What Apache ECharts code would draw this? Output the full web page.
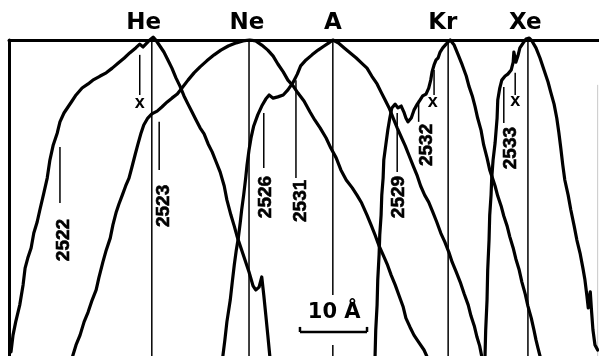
<!DOCTYPE html>
<html>
<head>
<meta charset="utf-8">
<script src="https://cdn.jsdelivr.net/npm/echarts@6/dist/echarts.min.js"></script>
<style>
html,body{margin:0;padding:0;background:#fff;}
#chart{width:599px;height:356px;}
</style>
</head>
<body>
<div id="chart"></div>
<script>
// x: wavelength offset (Å), y: relative intensity (frame top = 100)
const heCurve = [[0.3,1.3],[0.6,6.6],[1.0,10.8],[1.6,16.1],[2.1,22.5],[2.4,27.8],[2.8,31.0],[3.3,34.2],[3.7,38.9],[4.2,42.4],[4.6,46.2],[5.2,51.6],[5.7,56.3],[6.1,62.0],[6.6,66.8],[7.2,70.6],[7.6,74.1],[8.2,76.9],[8.8,78.8],[9.4,80.7],[10.0,82.6],[10.9,84.8],[11.8,86.1],[12.5,87.3],[13.6,88.6],[14.5,89.6],[15.4,91.1],[16.3,92.7],[17.2,94.3],[18.0,95.9],[18.9,97.5],[19.5,98.7],[20.0,97.8],[20.4,98.7],[21.0,100],[21.5,100.9],[21.9,100],[22.5,98.1],[23.1,96.2],[23.7,93.7],[24.3,91.1],[24.9,88.0],[25.5,85.4],[26.1,82.3],[26.7,79.7],[27.3,77.2],[27.9,74.7],[28.5,72.2],[29.1,70.3],[29.7,67.1],[30.3,64.6],[30.9,61.4],[31.5,58.2],[32.1,53.8],[32.5,49.4],[33.1,44.6],[33.6,41.1],[34.0,38.0],[34.6,34.2],[35.2,30.4],[35.8,26.6],[36.4,22.2],[36.8,20.9],[37.3,21.8],[37.7,25.0],[38.0,19.3],[38.3,13.0],[38.6,6.6],[38.9,0]];
const neCurve = [[9.5,0],[10.0,3.5],[10.6,6.6],[11.2,10.8],[11.8,13.9],[12.4,17.7],[13.0,20.9],[13.4,24.7],[14.0,29.7],[14.5,33.5],[15.1,37.3],[15.5,41.5],[16.0,45.6],[16.4,48.1],[16.9,50.9],[17.4,53.8],[17.9,56.3],[18.3,59.5],[18.8,63.6],[19.2,66.8],[19.7,70.6],[20.1,73.1],[20.7,75.3],[21.3,76.6],[22.1,77.5],[22.8,78.8],[23.6,80.4],[24.3,81.6],[25.1,82.9],[25.8,84.8],[26.7,87.3],[27.6,89.6],[28.5,91.5],[29.5,93.4],[30.6,95.3],[31.6,96.8],[32.7,98.1],[33.9,99.1],[34.9,99.7],[35.9,100],[36.8,99.7],[37.7,98.4],[38.6,96.8],[39.4,94.9],[40.1,92.4],[40.9,89.9],[41.6,87.3],[42.4,85.4],[43.1,83.2],[44.0,80.7],[44.9,77.2],[45.6,74.7],[46.4,72.2],[47.3,69.0],[48.0,65.8],[48.8,62.7],[49.5,58.9],[50.3,55.7],[51.2,53.2],[51.9,50.9],[52.6,48.4],[53.4,44.6],[54.0,41.5],[54.6,38.3],[55.2,34.8],[55.8,32.0],[56.4,29.1],[57.0,25.6],[57.6,22.5],[58.2,19.0],[58.8,15.5],[59.2,12.0],[59.8,9.2],[60.4,6.6],[61.1,4.4],[61.9,1.9],[62.3,0]];
const arCurve = [[31.9,0],[32.2,5.1],[32.5,10.8],[33.0,17.7],[33.3,23.4],[33.6,28.8],[33.9,33.5],[34.2,37.3],[34.5,42.4],[34.7,46.2],[35.0,50.9],[35.3,56.3],[35.5,60.4],[35.8,65.2],[36.1,69.0],[36.5,72.8],[37.1,76.3],[37.7,79.1],[38.3,81.3],[38.8,82.6],[39.4,81.6],[40.1,82.0],[40.9,82.6],[41.6,84.2],[42.4,86.7],[43.0,89.2],[43.5,91.8],[44.3,93.7],[45.2,95.3],[46.1,96.8],[47.0,98.1],[47.7,99.1],[48.3,100],[49.1,99.1],[50.0,97.5],[50.9,95.9],[51.8,94.3],[52.6,92.7],[53.4,91.1],[54.1,88.6],[54.9,86.1],[55.5,83.5],[56.1,81.0],[56.7,78.5],[57.3,75.3],[57.9,72.2],[58.5,69.3],[59.1,66.5],[59.7,63.3],[60.3,60.1],[60.9,57.0],[61.4,53.8],[62.0,50.9],[62.6,48.7],[63.2,45.6],[63.8,42.4],[64.4,38.9],[65.0,36.1],[65.6,32.9],[66.1,29.7],[66.7,26.6],[67.3,23.4],[67.9,19.6],[68.5,16.1],[68.9,12.7],[69.4,9.5],[69.8,6.0],[70.2,3.2],[70.5,0]];
const krCurve = [[54.6,0],[54.7,8.2],[54.9,16.1],[55.0,24.1],[55.2,32.0],[55.3,38.3],[55.5,44.6],[55.6,50.9],[55.8,56.3],[55.9,62.0],[56.2,66.8],[56.5,71.5],[56.8,75.3],[57.1,78.5],[57.6,79.7],[58.0,78.5],[58.5,79.1],[58.9,77.2],[59.2,75.3],[59.5,74.1],[60.0,75.3],[60.4,77.8],[60.9,79.7],[61.3,81.0],[61.7,82.3],[62.2,82.9],[62.6,84.8],[62.9,87.3],[63.1,89.9],[63.4,92.1],[63.7,93.7],[64.0,94.3],[64.3,96.2],[64.7,97.5],[65.2,98.7],[65.8,100],[66.4,98.4],[67.0,95.3],[67.6,92.1],[68.2,88.6],[68.6,85.4],[69.1,82.3],[69.5,79.1],[69.9,75.3],[70.4,71.5],[70.8,66.8],[71.3,62.7],[71.7,58.9],[72.0,57.0],[72.5,53.8],[72.9,50.6],[73.4,47.5],[73.8,44.3],[74.3,41.1],[74.7,37.7],[75.2,34.2],[75.6,30.7],[76.1,27.2],[76.5,23.4],[77.0,19.6],[77.4,15.8],[77.9,12.0],[78.3,8.2],[78.6,5.1],[78.9,2.5],[79.2,0]];
const xeCurve = [[71.0,0],[71.1,8.2],[71.3,17.7],[71.4,27.2],[71.6,36.7],[71.7,44.6],[71.9,50.9],[72.0,56.3],[72.2,62.0],[72.5,67.4],[72.8,75.3],[72.9,81.0],[73.2,84.8],[73.5,87.3],[74.0,88.6],[74.4,89.2],[74.9,90.5],[75.2,93.0],[75.3,96.2],[75.6,93.0],[75.9,94.9],[76.2,97.5],[76.7,99.1],[77.1,100.3],[77.6,100.6],[78.0,99.7],[78.6,97.5],[79.2,94.3],[79.8,90.5],[80.4,86.7],[80.8,83.5],[81.3,79.7],[81.7,75.3],[82.0,70.9],[82.3,65.8],[82.6,60.4],[82.9,55.7],[83.4,50.9],[83.8,46.2],[84.3,41.1],[84.7,36.7],[85.2,32.3],[85.6,27.8],[85.9,24.1],[86.2,19.0],[86.4,15.2],[86.5,17.7],[86.7,20.3],[86.9,13.9],[87.1,8.2],[87.4,3.5],[87.8,1.9]];

const elementNames = ['He', 'Ne', 'A', 'Kr', 'Xe'];
const elementLabelX = [20.1, 35.5, 48.3, 64.7, 77.0];
const elementLabelY = 105.4;

// reference (peak) lines: [x, top, bottom]
const peakLines = [[21.3,100,0],[35.8,100,0],[48.3,100,19.3],[48.3,3.5,0],[65.5,100,0],[77.4,100,0]];
const frameRightLine = [[87.8,85.8,0]];

const wavelengthLabels = ['2522', '2523', '2526', '2531', '2529', '2532', '2533'];
const wavelengthLabelX = [8.1, 23.1, 38.3, 43.5, 58.2, 62.3, 74.9];
const wavelengthLabelY = [36.7, 47.5, 50.3, 49.1, 50.3, 66.8, 65.8];
const wavelengthTickX = [7.6, 22.4, 38.0, 42.8, 57.9, 61.1, 73.8];
const wavelengthTickTop = [66.1, 74.1, 76.9, 87.3, 76.9, 81.0, 85.1];
const wavelengthTickBottom = [48.4, 58.9, 59.5, 56.3, 58.2, 74.1, 73.7];

const crossTickX = [19.5, 63.4, 75.5];
const crossTickTop = [95.3, 90.5, 89.6];
const crossTickBottom = [82.6, 82.6, 82.6];
const crossLabelX = [19.5, 63.2, 75.5];
const crossLabelY = [80.1, 80.4, 80.7];

const scaleBarStart = 43.4;
const scaleBarLength = 10;
const scaleBarY = 7.6;
const scaleBarTickY = 9.2;
const scaleLabel = '10 Å';
const scaleLabelPos = [48.5, 13.6];

const tickSegments = [];
wavelengthTickX.forEach((x, i) => tickSegments.push([x, wavelengthTickTop[i], wavelengthTickBottom[i]]));
crossTickX.forEach((x, i) => tickSegments.push([x, crossTickTop[i], crossTickBottom[i]]));

function segRender(width, color) {
  return function (params, api) {
    const p1 = api.coord([api.value(0), api.value(1)]);
    const p2 = api.coord([api.value(0), api.value(2)]);
    return { type: 'line', shape: { x1: p1[0], y1: p1[1], x2: p2[0], y2: p2[1] },
      style: { stroke: color, lineWidth: width } };
  };
}

function curveSeries(name, data) {
  return { name, type: 'line', data, symbol: 'none', clip: false, smooth: false,
    lineStyle: { color: '#000', width: 3.2, join: 'round', cap: 'round' }, z: 3 };
}

const chart = echarts.init(document.getElementById('chart'), null, { renderer: 'canvas' });
chart.setOption({
  animation: false,
  backgroundColor: '#fff',
  grid: { left: 9, right: 0, top: 40, bottom: 0 },
  xAxis: { type: 'value', min: 0, max: 88, position: 'top',
    axisLine: { show: true, onZero: false, lineStyle: { color: '#000', width: 3 } },
    axisTick: { show: false }, axisLabel: { show: false }, splitLine: { show: false } },
  yAxis: { type: 'value', min: 0, max: 100,
    axisLine: { show: true, onZero: false, lineStyle: { color: '#000', width: 3 } },
    axisTick: { show: false }, axisLabel: { show: false }, splitLine: { show: false } },
  series: [
    curveSeries('He', heCurve),
    curveSeries('Ne', neCurve),
    curveSeries('A', arCurve),
    curveSeries('Kr', krCurve),
    curveSeries('Xe', xeCurve),
    { type: 'custom', data: peakLines, renderItem: segRender(1.5, '#000'), encode: { x: 0, y: [1, 2] }, z: 2 },
    { type: 'custom', data: frameRightLine, renderItem: segRender(1, '#c8c8c8'), encode: { x: 0, y: [1, 2] }, z: 1 },
    { type: 'custom', data: tickSegments, renderItem: segRender(1.5, '#000'), encode: { x: 0, y: [1, 2] }, z: 2 },
    { type: 'custom', data: elementLabelX.map(x => [x, elementLabelY]), encode: { x: 0, y: 1 },
      renderItem: function (params, api) {
        const p = api.coord([api.value(0), api.value(1)]);
        return { type: 'text', x: p[0], y: p[1],
          style: { text: elementNames[params.dataIndex], fill: '#000', fontSize: 23, fontWeight: 'bold',
            fontFamily: 'DejaVu Sans', align: 'center', verticalAlign: 'middle' } };
      }, z: 4 },
    { type: 'custom', data: wavelengthLabelX.map((x, i) => [x, wavelengthLabelY[i]]), encode: { x: 0, y: 1 },
      renderItem: function (params, api) {
        const p = api.coord([api.value(0), api.value(1)]);
        return { type: 'text', x: p[0], y: p[1], rotation: Math.PI / 2,
          style: { text: wavelengthLabels[params.dataIndex], fill: '#000', fontSize: 19, fontWeight: 'bold',
            fontFamily: 'Liberation Sans', align: 'center', verticalAlign: 'middle',
            stroke: '#000', lineWidth: 0.6 } };
      }, z: 4 },
    { type: 'custom', data: crossLabelX.map((x, i) => [x, crossLabelY[i]]), encode: { x: 0, y: 1 },
      renderItem: function (params, api) {
        const p = api.coord([api.value(0), api.value(1)]);
        return { type: 'text', x: p[0], y: p[1],
          style: { text: 'x', fill: '#000', fontSize: 18, fontWeight: 'bold',
            fontFamily: 'Liberation Sans', align: 'center', verticalAlign: 'middle' } };
      }, z: 4 },
    { type: 'custom', data: [[scaleBarStart, scaleBarY]], encode: { x: 0, y: 1 },
      renderItem: function (params, api) {
        const a = api.coord([scaleBarStart, scaleBarY]);
        const b = api.coord([scaleBarStart + scaleBarLength, scaleBarY]);
        const at = api.coord([scaleBarStart, scaleBarTickY]);
        const lp = api.coord(scaleLabelPos);
        const st = { stroke: '#000', lineWidth: 2.5 };
        return { type: 'group', children: [
          { type: 'line', shape: { x1: a[0], y1: a[1], x2: b[0], y2: b[1] }, style: st },
          { type: 'line', shape: { x1: a[0], y1: a[1], x2: a[0], y2: at[1] }, style: st },
          { type: 'line', shape: { x1: b[0], y1: b[1], x2: b[0], y2: at[1] }, style: st },
          { type: 'text', x: lp[0], y: lp[1], style: { text: scaleLabel, fill: '#000', fontSize: 21,
            fontWeight: 'bold', fontFamily: 'DejaVu Sans', align: 'center', verticalAlign: 'middle' } }
        ] };
      }, z: 4 }
  ]
});
</script>
</body>
</html>
